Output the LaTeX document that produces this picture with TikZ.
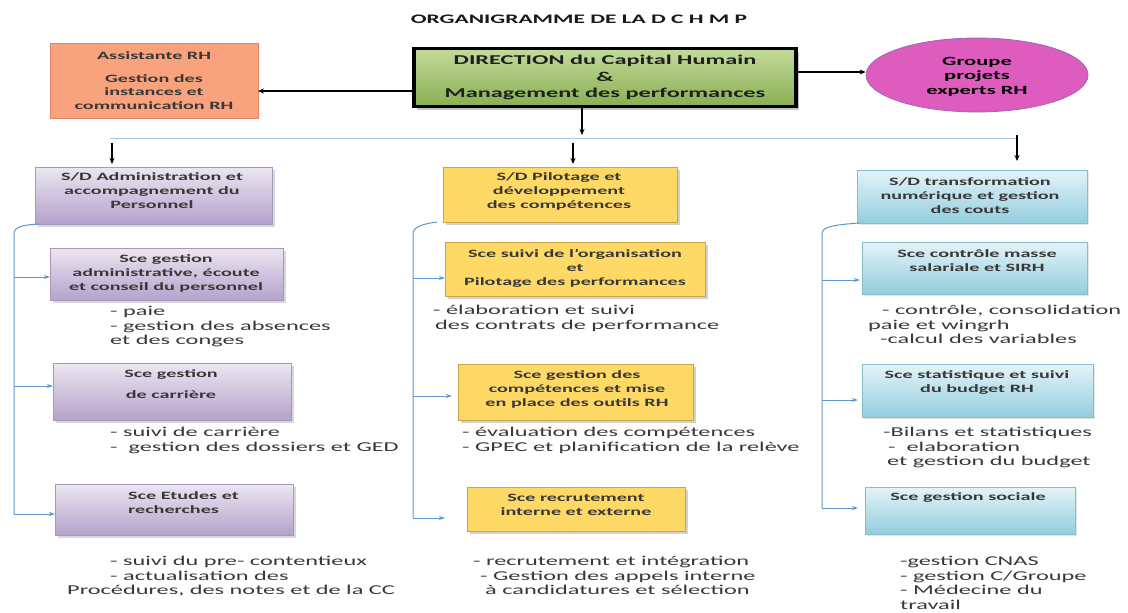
\documentclass[tikz,border=0pt]{standalone}
\usepackage{fontspec}
\setmainfont{Carlito}
\newfontfamily\wf[FakeStretch=1.8]{Carlito}
\usetikzlibrary{arrows.meta,shadows,shapes.geometric}
\definecolor{purpT}{HTML}{ECE6F1}
\definecolor{purpB}{HTML}{B4A2CB}
\definecolor{purpD}{HTML}{A896BE}
\definecolor{yelF}{HTML}{FFD966}
\definecolor{yelD}{HTML}{C9A545}
\definecolor{bluT}{HTML}{E4F3F8}
\definecolor{bluB}{HTML}{93CEDD}
\definecolor{bluD}{HTML}{86BDCC}
\definecolor{greT}{HTML}{C3DB9B}
\definecolor{greB}{HTML}{88AF52}
\definecolor{oraF}{HTML}{F8A27E}
\definecolor{oraD}{HTML}{E28462}
\definecolor{magF}{HTML}{DE5CBE}
\definecolor{magD}{HTML}{9A6AB4}
\definecolor{lnBlue}{HTML}{5E97CC}
\definecolor{hlBlue}{HTML}{A9C6E3}
\definecolor{txtG}{HTML}{383838}
\tikzset{
  box/.style={inner sep=0pt, outer sep=0pt},
  purplebox/.style={box, draw=purpD, line width=0.6pt, top color=purpT, bottom color=purpB,
    drop shadow={shadow xshift=2.5pt, shadow yshift=-2.5pt, opacity=0.3}},
  yellowbox/.style={box, draw=yelD, line width=0.6pt, fill=yelF,
    drop shadow={shadow xshift=2.5pt, shadow yshift=-2.5pt, opacity=0.35}},
  bluebox/.style={box, draw=bluD, line width=0.6pt, top color=bluT, bottom color=bluB,
    drop shadow={shadow xshift=2pt, shadow yshift=-2pt, opacity=0.2}},
  boxtxt/.style={inner sep=0pt, align=center, text=txtG, font={\wf\bfseries\fontsize{11.2}{14}\selectfont}},
  subtxt/.style={inner sep=0pt, anchor=north west, align=left, text=txtG, font={\wf\fontsize{13.5}{14.6}\selectfont}},
  blkarrow/.style={draw=black, line width=1.1pt, -{Stealth[length=6pt,width=5pt]}},
  barrow/.style={draw=lnBlue, line width=1pt, -{Stealth[length=6pt,width=4pt]}},
  bline/.style={draw=lnBlue, line width=1pt},
}
\begin{document}
\begin{tikzpicture}[x=1pt,y=-1pt]
\useasboundingbox (0,0) rectangle (1128,613);
\fill[white] (0,0) rectangle (1128,613);

% title
\node[inner sep=0pt, text=black!90, font={\wf\bfseries\fontsize{13}{15}\selectfont}] (title) at (579,19.5) {ORGANIGRAMME DE LA D C H M P};

% top level
\node[box, draw=oraD, line width=0.6pt, fill=oraF, minimum width=208pt, minimum height=75pt,
      align=center, text=txtG, font={\wf\bfseries\fontsize{11.2}{13.5}\selectfont}] (ast) at (154,80.5)
      {Assistante RH\\[9pt]Gestion des\\instances et\\communication RH};
\node[box, draw=black, line width=3.5pt, top color=greT, bottom color=greB, minimum width=382pt, minimum height=58pt,
      align=center, text=black!88, font={\wf\bfseries\fontsize{13.5}{16.5}\selectfont},
      drop shadow={shadow xshift=3pt, shadow yshift=-3pt, opacity=0.45}] (dir) at (605,77.5)
      {DIRECTION du Capital Humain\\\&\\Management des performances};
\node[ellipse, draw=magD, line width=0.8pt, fill=magF, minimum width=222pt, minimum height=74pt, inner sep=0pt] (ell) at (977,75) {};
\node[inner sep=0pt, align=center, text=black, font={\wf\bfseries\fontsize{12.5}{14.5}\selectfont}] (tell) at (977,76.5)
      {Groupe\\projets\\experts RH};

\draw[blkarrow] (dir.west |- 0,91) -- (ast.east |- 0,91);
\draw[blkarrow] (dir.east |- 0,72) -- (ell.west |- 0,72);
\coordinate (dd) at (582,135);
\draw[blkarrow] (dir.south -| dd) -- (dd);

% horizontal line
\coordinate (hl) at (110,138);
\coordinate (hr) at (1017,138);
\draw[draw=hlBlue, line width=1pt] (hl) -- (hr);

% S/D boxes
\node[purplebox, minimum width=237pt, minimum height=57pt] (sda) at (153.5,195.5) {};
\node[yellowbox, minimum width=234pt, minimum height=55pt] (sdp) at (560,194.5) {};
\node[bluebox, minimum width=230pt, minimum height=53pt] (sdt) at (972,196.5) {};
\node[boxtxt] (tsda) at (152,191) {S/D Administration et\\accompagnement du\\Personnel};
\node[boxtxt] (tsdp) at (559,191) {S/D Pilotage et\\développement\\des compétences};
\node[boxtxt] (tsdt) at (970,196) {S/D transformation\\numérique et gestion\\des couts};

\coordinate (da) at (112,143);
\coordinate (dp) at (573,143);
\coordinate (dt) at (1017,135);
\draw[blkarrow, shorten >=3pt] (da) -- (sda.north -| da);
\draw[blkarrow, shorten >=3pt] (dp) -- (sdp.north -| dp);
\draw[blkarrow, shorten >=9pt] (dt) -- (sdt.north -| dt);

% services column 1
\node[purplebox, minimum width=233pt, minimum height=52pt] (s1) at (166.5,274) {};
\node[purplebox, minimum width=238pt, minimum height=57pt] (s2) at (172,391.5) {};
\node[purplebox, minimum width=238pt, minimum height=51pt] (s3) at (174,509.5) {};
\node[boxtxt] (ts1) at (166,273) {Sce gestion\\administrative, écoute\\et conseil du personnel};
\node[boxtxt] (ts2) at (171,384.5) {Sce gestion\\[7pt]de carrière};
\node[boxtxt, align=left, anchor=west] (ts3) at (128,503) {Sce Etudes et\\recherches};

% services column 2
\node[yellowbox, minimum width=260pt, minimum height=54pt] (p1) at (575,269) {};
\node[yellowbox, minimum width=235pt, minimum height=56pt] (p2) at (575.5,392) {};
\node[yellowbox, minimum width=218pt, minimum height=44pt] (p3) at (576,509) {};
\node[boxtxt] (tp1) at (575,268) {Sce suivi de l’organisation\\et\\Pilotage des performances};
\node[boxtxt] (tp2) at (577,389) {Sce gestion des\\compétences et mise\\en place des outils RH};
\node[boxtxt] (tp3) at (576,505) {Sce recrutement\\interne et externe};

% services column 3
\node[bluebox, minimum width=225pt, minimum height=52pt] (t1) at (974.5,268) {};
\node[bluebox, minimum width=231pt, minimum height=53pt] (t2) at (977.5,390.5) {};
\node[bluebox, minimum width=210pt, minimum height=47pt] (t3) at (970,510.5) {};
\node[boxtxt] (tt1) at (977,260.5) {Sce contrôle masse\\salariale et SIRH};
\node[boxtxt] (tt2) at (977,383) {Sce statistique et suivi\\du budget RH};
\node[boxtxt] (tt3) at (968,498) {Sce gestion sociale};

% brackets column 1
\coordinate (a1) at (14,277);
\coordinate (a2) at (14,386);
\coordinate (a3) at (14,514);
\draw[bline] ([xshift=4pt]sda.south west) .. controls (22,225) and (14,227) .. (14,234) -- (a3);
\draw[barrow] (a1) -- (a1 -| s1.west);
\draw[barrow] (a2) -- (a2 -| s2.west);
\draw[barrow] (a3) -- (a3 -| s3.west);

% brackets column 2
\coordinate (b1) at (413,278);
\coordinate (b2) at (413,396);
\coordinate (b3) at (413,518);
\draw[bline] ([xshift=-6pt]sdp.south west) .. controls (422,224) and (413,227) .. (413,234) -- (b3);
\draw[barrow] (b1) -- (b1 -| p1.west);
\draw[barrow] (b2) -- ([xshift=-6pt]b2 -| p2.west);
\draw[barrow] (b3) -- ([xshift=-22pt]b3 -| p3.west);

% brackets column 3
\coordinate (c1) at (822,280);
\coordinate (c2) at (822,400);
\coordinate (c3) at (822,508);
\draw[bline] ([xshift=2pt]sdt.south west) .. controls (832,225) and (822,227) .. (822,234) -- (c3);
\draw[barrow] (c1) -- ([xshift=-2pt]c1 -| t1.west);
\draw[barrow] (c2) -- ([xshift=-4pt]c2 -| t2.west);
\draw[barrow] (c3) -- ([xshift=-7pt]c3 -| t3.west);

% sub texts
\node[subtxt] (xa1) at (110,305) {\strut- paie\\- gestion des absences\\et des conges};
\node[subtxt] (xa2) at (110,426) {\strut- suivi de carrière\\-\ \ gestion des dossiers et GED};
\node[subtxt] (xa3) at (67,555) {\strut\hspace*{43pt}- suivi du pre- contentieux\\\hspace*{43pt}- actualisation des\\Procédures, des notes et de la CC};
\node[subtxt] (xb1) at (433,304) {\strut- élaboration et suivi\\\hspace*{2pt}des contrats de performance};
\node[subtxt] (xb2) at (462,426) {\strut- évaluation des compétences\\- GPEC et planification de la relève};
\node[subtxt] (xb3) at (473,555) {\strut- recrutement et intégration\\\hspace*{7pt}- Gestion des appels interne\\\hspace*{12pt}à candidatures et sélection};
\node[subtxt] (xc1) at (868,304) {\strut\hspace*{14pt}- contrôle, consolidation\\paie et wingrh\\\hspace*{12pt}-calcul des variables};
\node[subtxt] (xc2) at (883,426) {\strut-Bilans et statistiques\\\hspace*{5pt}-\ \ elaboration\\\hspace*{4pt}et gestion du budget};
\node[subtxt] (xc3) at (900,555) {\strut-gestion CNAS\\- gestion C/Groupe\\- Médecine du\\travail};
\end{tikzpicture}
\end{document}
